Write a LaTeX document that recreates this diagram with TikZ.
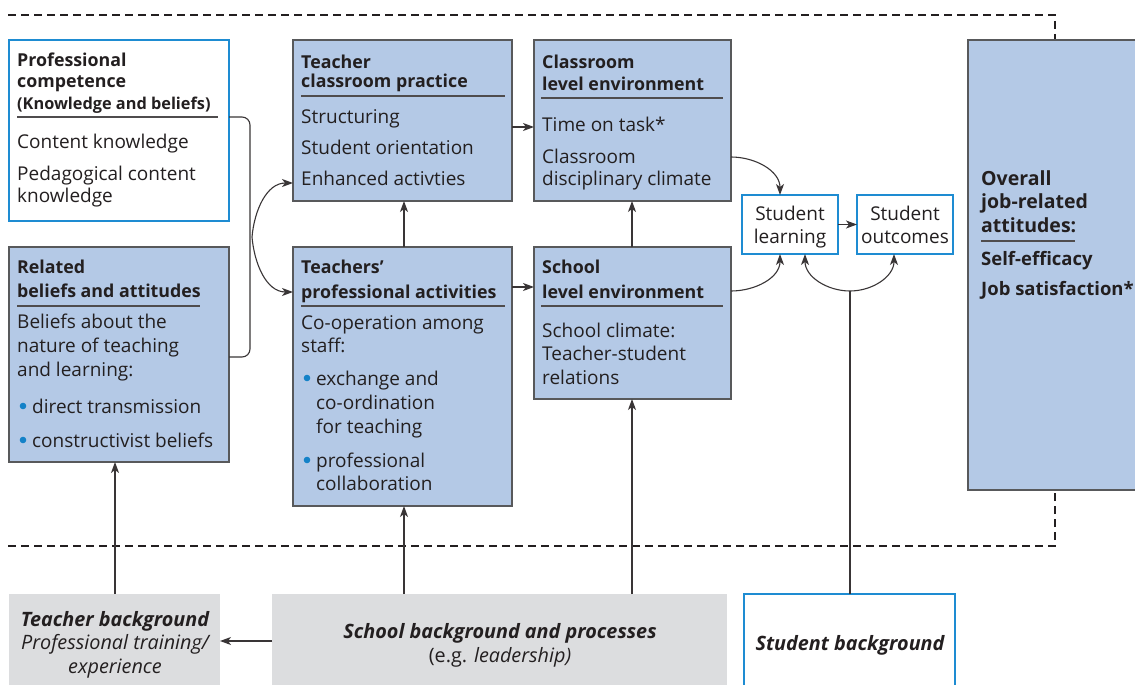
\documentclass[tikz,border=0pt]{standalone}
\usepackage{fontspec}
\setmainfont{Open Sans}
\usetikzlibrary{arrows.meta}
\definecolor{boxblue}{RGB}{180,201,230}
\definecolor{edgegray}{RGB}{88,89,91}
\definecolor{lineblue}{RGB}{30,140,210}
\definecolor{bggray}{RGB}{220,221,223}
\definecolor{ink}{RGB}{35,31,32}
\definecolor{dotblue}{RGB}{20,130,200}
\newcommand{\fb}[1]{\fontsize{19}{#1}\selectfont}
\newcommand{\fh}[1]{\fontsize{17.8}{#1}\selectfont\bfseries}
\tikzset{
 bluebox/.style={draw=edgegray, fill=boxblue, line width=1.3pt, inner sep=0pt, outer sep=0pt, anchor=north west},
 whitebox/.style={draw=lineblue, fill=white, line width=1.3pt, inner sep=0pt, outer sep=0pt, anchor=north west},
 graybox/.style={fill=bggray, inner sep=0pt, outer sep=0pt, anchor=north west},
 txt/.style={anchor=base west, align=left, inner sep=0pt, text=ink},
 ctxt/.style={anchor=base, align=center, inner sep=0pt, text=ink},
 hrule/.style={draw=ink!80, line width=1.2pt},
 conn/.style={draw=ink!90, line width=1.1pt, -{Stealth[length=11pt,width=8pt,inset=3pt]}},
 plain/.style={draw=ink!90, line width=1.1pt},
 dashline/.style={draw=ink, line width=1.6pt, dash pattern=on 8pt off 5pt},
 bullet/.style={fill=dotblue},
}
\begin{document}
\begin{tikzpicture}[x=1pt,y=-1pt]
\useasboundingbox (0,0) rectangle (1135,685);
\clip (0,0) rectangle (1135,685);

% dashed frame
\draw[dashline] (8,15) -- (1055,15) -- (1055,40);
\draw[dashline] (8,546) -- (1055,546) -- (1055,490);

% boxes
\node[whitebox, minimum width=220pt, minimum height=181pt] (pc) at (9,40) {};
\node[bluebox, minimum width=220pt, minimum height=215pt] (rb) at (9,247) {};
\node[bluebox, minimum width=219pt, minimum height=161pt] (tcp) at (293,40) {};
\node[bluebox, minimum width=197pt, minimum height=161pt] (cle) at (534,40) {};
\node[bluebox, minimum width=219pt, minimum height=259pt] (tpa) at (293,247) {};
\node[bluebox, minimum width=197pt, minimum height=152pt] (sle) at (534,247) {};
\node[whitebox, minimum width=96pt, minimum height=59pt] (sl) at (742,195) {};
\node[whitebox, minimum width=96pt, minimum height=59pt] (so) at (857,195) {};
\node[bluebox, minimum width=180pt, minimum height=450pt] (oj) at (968,40) {};
\node[graybox, minimum width=211pt, minimum height=100pt] (tb) at (9,594) {};
\node[graybox, minimum width=455pt, minimum height=100pt] (sb) at (272,594) {};
\node[whitebox, minimum width=211pt, minimum height=110pt] (stb) at (744,594) {};

% Professional competence (base = last line baseline)
\node[txt, font=\fh{21}] (pch) at (17,88) {Professional\\competence};
\node[txt, font=\fontsize{16.3}{18}\selectfont\bfseries] (pcs) at (17,109) {(Knowledge and beliefs)};
\draw[hrule] (17,117) -- (218,117);
\node[txt, font=\fb{22}] (pc1) at (17,148) {Content knowledge};
\node[txt, font=\fb{22}] (pc2) at (17,202) {Pedagogical content\\knowledge};

% Related beliefs
\node[txt, font=\fh{24}] (rbh) at (17,297) {Related\\beliefs and attitudes};
\draw[hrule] (17,306) -- (200,306);
\node[txt, font=\fb{24}] (rb1) at (17,376) {Beliefs about the\\nature of teaching\\and learning:};
\fill[bullet] (23,406) circle (3.3);
\node[txt, font=\fb{22}] (rb2) at (32,413) {direct transmission};
\fill[bullet] (23,440) circle (3.3);
\node[txt, font=\fb{22}] (rb3) at (32,447) {constructivist beliefs};

% Teacher classroom practice
\node[txt, font=\fh{20}] (tcph) at (301,88) {Teacher\\classroom practice};
\draw[hrule] (301,96) -- (505,96);
\node[txt, font=\fb{31}] (tcp1) at (301,185) {Structuring\\Student orientation\\Enhanced activties};

% Classroom level environment
\node[txt, font=\fh{23}] (cleh) at (542,91) {Classroom\\level environment};
\draw[hrule] (541,98) -- (723,98);
\node[txt, font=\fb{22}] (cle1) at (542,131) {Time on task*};
\node[txt, font=\fb{22}] (cle2) at (542,185) {Classroom\\disciplinary climate};

% Teachers' professional activities
\node[txt, font=\fh{25}] (tpah) at (301,298) {Teachers’\\professional activities};
\draw[hrule] (301,306) -- (505,306);
\node[txt, font=\fb{23}] (tpa1) at (301,352) {Co-operation among\\staff:};
\fill[bullet] (307,378) circle (3.3);
\node[txt, font=\fb{24}] (tpa2) at (316,433) {exchange and\\co-ordination\\for teaching};
\fill[bullet] (307,460) circle (3.3);
\node[txt, font=\fb{23}] (tpa3) at (316,490) {professional\\collaboration};

% School level environment
\node[txt, font=\fh{25}] (sleh) at (542,298) {School\\level environment};
\draw[hrule] (541,306) -- (723,306);
\node[txt, font=\fb{23.5}] (sle1) at (542,384) {School climate:\\Teacher-student\\relations};

% Student learning / outcomes
\node[ctxt, font=\fb{23}] (slt) at (790,243) {Student\\learning};
\node[ctxt, font=\fb{23}] (sot) at (905,243) {Student\\outcomes};

% Overall job-related attitudes
\node[txt, font=\fontsize{19.5}{23.5}\selectfont\bfseries] (ojh) at (981,232) {Overall\\job-related\\attitudes:};
\draw[hrule] (981,241) -- (1075,241);
\node[txt, font=\fontsize{18.5}{30}\selectfont\bfseries] (oj1) at (981,295) {Self-efficacy\\Job satisfaction*};

% bottom boxes
\node[ctxt, font=\fontsize{19.8}{23.5}\selectfont\itshape] (tbt) at (115,673) {\bfseries Teacher background\\Professional training/\\experience};
\node[ctxt, font=\fontsize{19.8}{24}\selectfont\itshape] (sbt) at (500,662) {\bfseries School background and processes\\{\upshape(e.g.} leadership)};
\node[ctxt, font=\fontsize{19.8}{23}\selectfont\bfseries\itshape] (stbt) at (850,650) {Student background};

% connectors
\draw[conn] (tcp.east |- 0,127) -- (cle.west |- 0,127);
\draw[conn] (tpa.east |- 0,287) -- (sle.west |- 0,287);
\draw[conn] (404,0 |- tpa.north) -- (404,0 |- tcp.south);
\draw[conn] (632,0 |- sle.north) -- (632,0 |- cle.south);
\draw[plain, rounded corners=8pt] (pc.east |- 0,117) -- (250,117) -- (250,357) -- (rb.east |- 0,357);
\coordinate (br) at (252,237);
\draw[conn] (br) to[out=85,in=180] (tcp.west |- 0,183);
\draw[conn] (br) to[out=-85,in=180] (tpa.west |- 0,292);
\draw[conn] (cle.east |- 0,157) to[out=0,in=90] (780,0 |- sl.north);
\draw[conn] (sle.east |- 0,291) to[out=0,in=-90] (780,0 |- sl.south);
\draw[conn] (sl.east) -- (so.west);
\coordinate (j) at (850,291);
\draw[plain] (stb.north -| j) -- (j);
\draw[conn] (j) to[out=180,in=-90] (805,0 |- sl.south);
\draw[conn] (j) to[out=0,in=-90] (894,0 |- so.south);
\draw[conn] (115,0 |- tb.north) -- (115,0 |- rb.south);
\draw[conn] (404,0 |- sb.north) -- (404,0 |- tpa.south);
\draw[conn] (632,0 |- sb.north) -- (632,0 |- sle.south);
\draw[conn] (sb.west |- 0,641) -- (tb.east |- 0,641);
\end{tikzpicture}
\end{document}
